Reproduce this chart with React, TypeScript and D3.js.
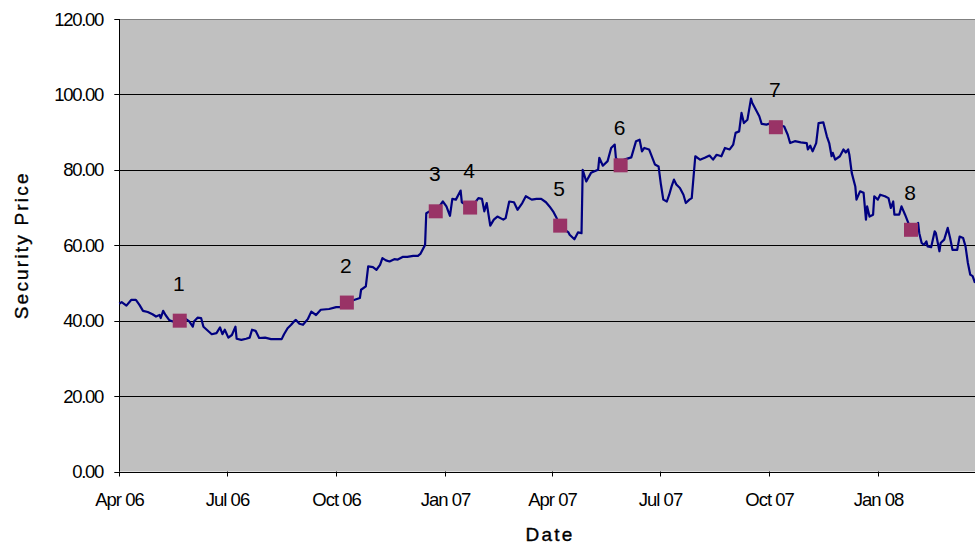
import React from 'react';
import * as d3 from 'd3';

// security price series
const priceDates: string[] = [
  '2006-04-01','2006-04-03','2006-04-07','2006-04-11','2006-04-15','2006-04-18','2006-04-21','2006-04-25','2006-04-29','2006-05-02',
  '2006-05-05','2006-05-06','2006-05-08','2006-05-10','2006-05-13','2006-05-16','2006-05-22','2006-05-24','2006-05-27','2006-05-30',
  '2006-06-02','2006-06-03','2006-06-06','2006-06-09','2006-06-11','2006-06-18','2006-06-22','2006-06-25','2006-06-27','2006-06-29',
  '2006-07-02','2006-07-05','2006-07-08','2006-07-09','2006-07-13','2006-07-17','2006-07-20','2006-07-22','2006-07-25','2006-07-28',
  '2006-08-02','2006-08-07','2006-08-16','2006-08-18','2006-08-21','2006-08-24','2006-08-27','2006-08-28','2006-08-31','2006-09-03',
  '2006-09-07','2006-09-10','2006-09-14','2006-09-18','2006-09-25','2006-10-01','2006-10-05','2006-10-10','2006-10-16','2006-10-21',
  '2006-10-22','2006-10-26','2006-10-28','2006-11-01','2006-11-04','2006-11-07','2006-11-09','2006-11-12','2006-11-15','2006-11-19',
  '2006-11-22','2006-11-26','2006-11-30','2006-12-05','2006-12-09','2006-12-11','2006-12-15','2006-12-16','2006-12-19','2006-12-24',
  '2006-12-30','2007-01-02','2007-01-05','2007-01-07','2007-01-10','2007-01-14','2007-01-15','2007-01-22','2007-01-25','2007-01-29',
  '2007-02-01','2007-02-03','2007-02-05','2007-02-08','2007-02-11','2007-02-14','2007-02-19','2007-02-21','2007-02-24','2007-02-28',
  '2007-03-03','2007-03-07','2007-03-10','2007-03-15','2007-03-19','2007-03-23','2007-03-27','2007-03-30','2007-04-02','2007-04-05',
  '2007-04-08','2007-04-12','2007-04-15','2007-04-16','2007-04-20','2007-04-23','2007-04-26','2007-04-27','2007-04-30','2007-05-04',
  '2007-05-07','2007-05-10','2007-05-11','2007-05-14','2007-05-18','2007-05-21','2007-05-24','2007-05-25','2007-05-29','2007-06-01',
  '2007-06-07','2007-06-11','2007-06-14','2007-06-16','2007-06-18','2007-06-22','2007-06-27','2007-06-30','2007-07-02','2007-07-04',
  '2007-07-07','2007-07-09','2007-07-11','2007-07-13','2007-07-15','2007-07-18','2007-07-21','2007-07-23','2007-07-26','2007-07-28',
  '2007-07-31','2007-08-04','2007-08-08','2007-08-12','2007-08-15','2007-08-18','2007-08-22','2007-08-25','2007-08-29','2007-09-01',
  '2007-09-03','2007-09-06','2007-09-08','2007-09-10','2007-09-13','2007-09-16','2007-09-17','2007-09-20','2007-09-23','2007-09-25',
  '2007-09-29','2007-10-03','2007-10-07','2007-10-12','2007-10-14','2007-10-17','2007-10-19','2007-10-23','2007-10-28','2007-11-02',
  '2007-11-03','2007-11-05','2007-11-07','2007-11-10','2007-11-12','2007-11-16','2007-11-19','2007-11-21','2007-11-23','2007-11-24',
  '2007-11-26','2007-11-30','2007-12-03','2007-12-05','2007-12-07','2007-12-08','2007-12-10','2007-12-13','2007-12-14','2007-12-17',
  '2007-12-20','2007-12-22','2007-12-23','2007-12-25','2007-12-28','2007-12-29','2008-01-01','2008-01-03','2008-01-07','2008-01-10',
  '2008-01-12','2008-01-14','2008-01-15','2008-01-19','2008-01-21','2008-01-24','2008-01-29','2008-02-01','2008-02-04','2008-02-05',
  '2008-02-07','2008-02-09','2008-02-11','2008-02-12','2008-02-15','2008-02-18','2008-02-19','2008-02-22','2008-02-23','2008-02-26',
  '2008-02-29','2008-03-02','2008-03-04','2008-03-08','2008-03-10','2008-03-13','2008-03-15','2008-03-17','2008-03-19','2008-03-21',
  '2008-03-23',
];
const priceValues: number[] = [
  44.5,44.9,44.0,45.5,45.5,44.2,42.6,42.3,41.7,41.1,
  41.5,40.7,42.6,41.5,40.2,39.8,40.0,40.2,40.5,39.8,
  38.4,39.8,40.8,40.7,38.4,36.4,36.7,38.2,36.4,37.6,
  35.5,36.2,38.4,35.2,34.9,35.2,35.5,37.6,37.3,35.4,
  35.5,35.1,35.1,36.4,38.0,38.9,40.0,40.2,39.2,38.9,
  40.4,42.4,41.5,42.9,43.1,43.6,43.6,44.8,45.5,46.0,
  48.2,49.1,54.4,54.2,53.5,54.8,56.6,56.0,55.7,56.3,
  56.2,56.9,56.9,57.2,57.2,57.7,60.1,68.5,69.0,69.0,
  71.6,70.3,67.8,72.3,72.1,74.5,71.4,70.0,70.8,72.5,
  72.3,69.0,71.2,65.2,66.8,67.6,66.8,67.2,71.6,71.4,
  69.4,71.2,73.0,72.1,72.3,72.3,71.4,70.3,69.0,67.2,
  65.2,64.1,63.4,62.8,61.6,63.4,63.2,80.0,76.9,79.2,
  79.6,80.0,83.2,81.1,82.3,85.8,86.7,83.2,81.2,82.7,
  83.3,87.6,88.0,84.9,85.8,85.4,81.4,80.9,76.1,72.1,
  71.6,73.4,75.6,77.4,76.1,75.2,73.4,71.2,72.1,72.5,
  83.6,82.7,83.2,83.8,82.7,84.0,83.6,85.8,85.4,86.7,
  89.8,90.2,95.1,92.4,93.3,98.9,97.8,96.0,94.2,92.2,
  92.0,92.4,91.3,91.7,91.5,89.3,87.1,87.6,87.3,87.1,
  85.4,86.4,84.9,87.1,92.4,92.6,88.9,87.1,83.6,84.5,
  82.7,83.6,85.4,84.6,85.4,84.0,79.2,75.6,72.1,74.3,
  73.9,66.8,70.3,67.6,68.1,73.0,72.1,73.4,73.0,72.5,
  69.9,71.6,68.1,68.1,70.3,68.1,64.1,64.6,65.9,63.2,
  60.6,60.1,61.0,59.7,59.5,63.7,63.2,58.4,60.6,61.5,
  64.6,61.9,58.8,58.8,62.3,61.9,59.7,55.3,52.2,51.8,
  50.0,
];

// numbered event markers
const eventLabels: string[] = ['1','2','3','4','5','6','7','8'];
const eventDates: string[] = ['2006-05-22','2006-10-10','2006-12-24','2007-01-22','2007-04-08','2007-05-29','2007-10-07','2008-01-29'];
const eventValues: number[] = [40.0,44.8,69.0,70.0,65.2,81.2,91.3,64.1];

const yTicks: number[] = [0,20,40,60,80,100,120];
const xTickDates: string[] = ['2006-04-01','2006-07-01','2006-10-01','2007-01-01','2007-04-01','2007-07-01','2007-10-01','2008-01-01'];
const xTickLabels: string[] = ['Apr 06','Jul 06','Oct 06','Jan 07','Apr 07','Jul 07','Oct 07','Jan 08'];

const parse = d3.timeParse('%Y-%m-%d');

const App: React.FC = () => {
  const width = 975;
  const height = 545;
  const left = 119.3;
  const right = 975;
  const top = 19;
  const bottom = 471.5;

  const x = d3.scaleTime([parse('2006-04-01')!, parse('2008-03-23')!], [left, right]);
  const y = d3.scaleLinear([0, 120], [bottom, top]);

  const pts: [Date, number][] = priceDates.map((d, i) => [parse(d)!, priceValues[i]]);
  const line = d3.line<[Date, number]>()
    .x(d => x(d[0]))
    .y(d => y(d[1]));

  const font = "'Liberation Sans', Arial, sans-serif";

  return (
    <svg width={width} height={height} style={{position: 'absolute', left: 0, top: 0}} fontFamily={font}>
      <rect x={0} y={0} width={width} height={height} fill="#ffffff" />
      <rect x={left} y={top} width={right - left} height={bottom - top} fill="#c0c0c0" />
      {yTicks.map(t => (
        <g key={t}>
          {t > 0 && (
            <line x1={left} x2={right} y1={Math.round(y(t)) + 0.5} y2={Math.round(y(t)) + 0.5}
              stroke={t === 120 ? '#808080' : '#000000'} strokeWidth={1} />
          )}
          <line x1={left - 5} x2={left} y1={Math.round(y(t)) + 0.5} y2={Math.round(y(t)) + 0.5} stroke="#000" />
          <text x={103} y={y(t) + 6.5} textAnchor="end" fontSize={18.5} letterSpacing={-1.3} fill="#000">
            {t.toFixed(2)}
          </text>
        </g>
      ))}
      <line x1={Math.round(left) + 0.5} x2={Math.round(left) + 0.5} y1={top} y2={bottom} stroke="#000" />
      <line x1={left} x2={right} y1={Math.round(bottom) + 0.5} y2={Math.round(bottom) + 0.5} stroke="#000" />
      {xTickDates.map((d, i) => {
        const px = Math.round(x(parse(d)!)) + 0.5;
        return (
          <g key={d}>
            <line x1={px} x2={px} y1={bottom} y2={bottom + 5} stroke="#000" />
            <text x={px} y={506} textAnchor="middle" fontSize={18.5} letterSpacing={-1} fill="#000">
              {xTickLabels[i]}
            </text>
          </g>
        );
      })}
      <path d={line(pts) ?? ''} fill="none" stroke="#000080" strokeWidth={2.2} strokeLinejoin="round" />
      {eventDates.map((d, i) => {
        const px = x(parse(d)!);
        const py = y(eventValues[i]);
        return (
          <g key={d}>
            <rect x={px - 7} y={py - 7} width={14} height={14} fill="#993366" />
            <text x={px - 1} y={py - 30} textAnchor="middle" fontSize={21} fill="#000">
              {eventLabels[i]}
            </text>
          </g>
        );
      })}
      <text x={550} y={541} textAnchor="middle" fontSize={19} letterSpacing={2.2} fill="#000"
        stroke="#000" strokeWidth={0.35}>
        Date
      </text>
      <text transform={`translate(28,${(top + bottom) / 2}) rotate(-90)`} textAnchor="middle" fontSize={19}
        letterSpacing={2.2} fill="#000" stroke="#000" strokeWidth={0.35}>
        Security Price
      </text>
    </svg>
  );
};

export default App;
